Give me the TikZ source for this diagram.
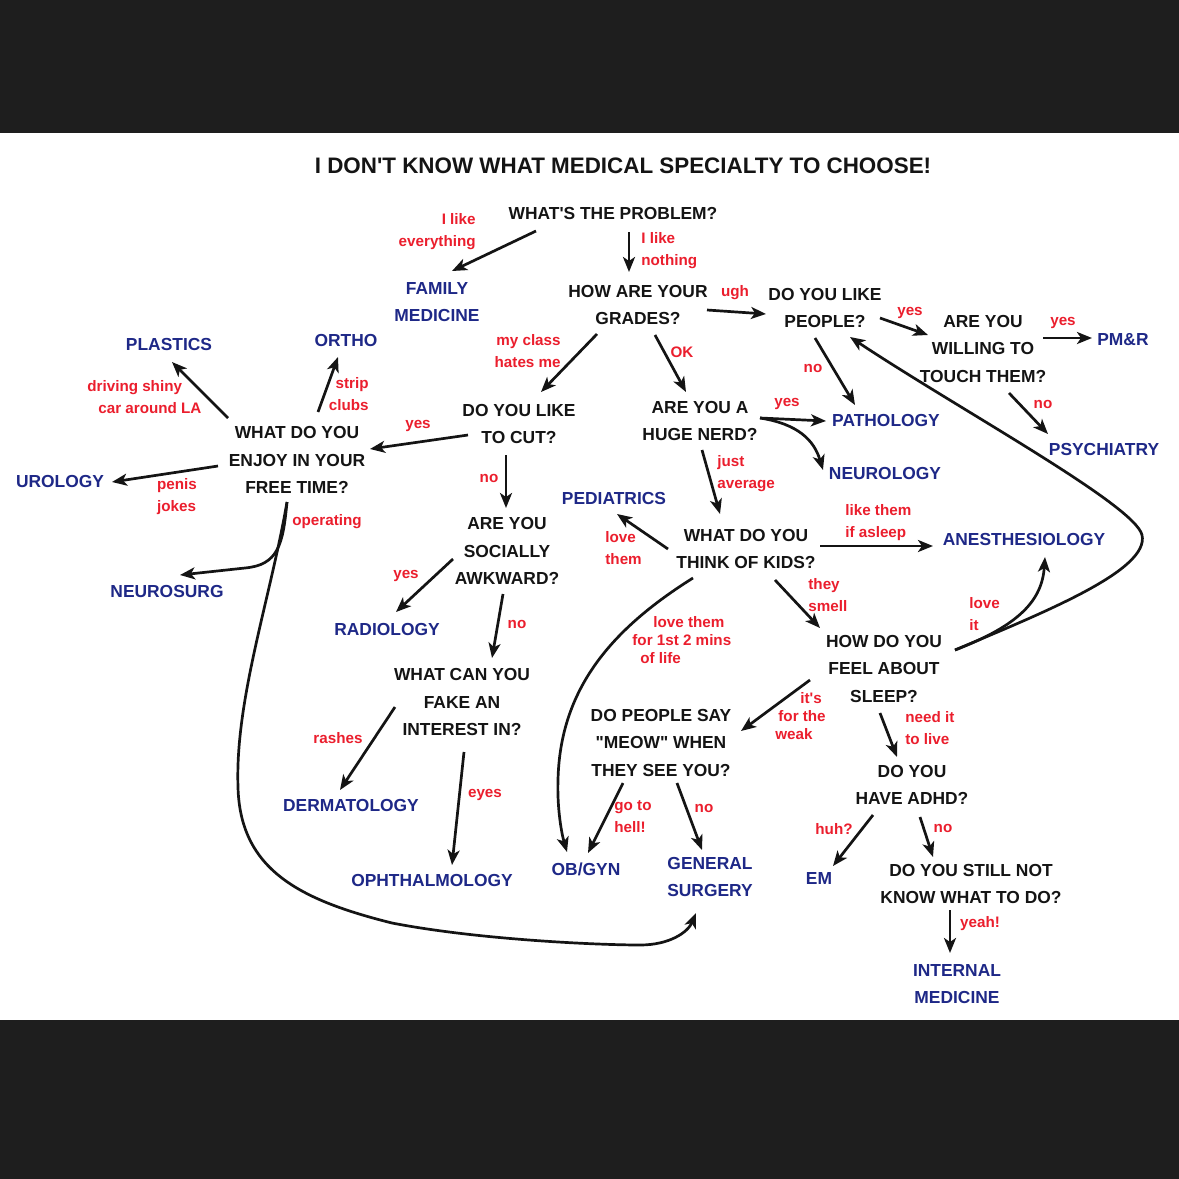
\documentclass[tikz,border=0pt]{standalone}
\usepackage{fontspec}
\setmainfont{Liberation Sans}
\newfontfamily\lsans{Liberation Sans}
\usetikzlibrary{arrows.meta}
\definecolor{bgdark}{RGB}{30,30,30}
\definecolor{qblack}{RGB}{20,20,20}
\definecolor{sblue}{RGB}{30,40,135}
\definecolor{lred}{RGB}{235,30,45}
\begin{document}
\begin{tikzpicture}[x=0.5pt,y=-0.5pt,
 q/.style={font=\lsans\bfseries\fontsize{8.7}{13.75}\selectfont, text=qblack, align=center, inner sep=0pt},
 sp/.style={font=\lsans\bfseries\fontsize{8.7}{13.75}\selectfont, text=sblue, align=center, inner sep=0pt},
 lb/.style={font=\lsans\bfseries\fontsize{7.6}{11}\selectfont, text=lred, inner sep=0pt},
 lbs/.style={font=\lsans\bfseries\fontsize{7.6}{9}\selectfont, text=lred, inner sep=0pt},
 arr/.style={-{Stealth[length=7.5pt,width=6pt,inset=2pt]}, line width=1.35pt, draw=qblack},
 ln/.style={line width=1.35pt, draw=qblack}
]
% background
\fill[bgdark] (0,0) rectangle (1179,1179);
\fill[white] (0,133) rectangle (1179,1020);
\useasboundingbox (0,0) rectangle (1179,1179);

% title
\node[q, font=\lsans\bfseries\fontsize{11.2}{13}\selectfont] (title) at (623,166) {I DON'T KNOW WHAT MEDICAL SPECIALTY TO CHOOSE!};

% questions
\node[q] (q1) at (613,214) {WHAT'S THE PROBLEM?};
\node[q] (q2) at (638,305) {HOW ARE YOUR\\GRADES?};
\node[q] (q3) at (825,308) {DO YOU LIKE\\PEOPLE?};
\node[q] (q4) at (983,349) {ARE YOU\\WILLING TO\\TOUCH THEM?};
\node[q] (q5) at (519,424) {DO YOU LIKE\\TO CUT?};
\node[q] (q6) at (700,421) {ARE YOU A\\HUGE NERD?};
\node[q] (q7) at (297,460) {WHAT DO YOU\\ENJOY IN YOUR\\FREE TIME?};
\node[q] (q8) at (507,551) {ARE YOU\\SOCIALLY\\AWKWARD?};
\node[q] (q9) at (462,702) {WHAT CAN YOU\\FAKE AN\\INTEREST IN?};
\node[q] (q10) at (746,549) {WHAT DO YOU\\THINK OF KIDS?};
\node[q] (q11) at (884,669) {HOW DO YOU\\FEEL ABOUT\\SLEEP?};
\node[q] (q12) at (661,743) {DO PEOPLE SAY\\"MEOW" WHEN\\THEY SEE YOU?};
\node[q] (q13) at (912,785) {DO YOU\\HAVE ADHD?};
\node[q] (q14) at (971,884) {DO YOU STILL NOT\\KNOW WHAT TO DO?};

% specialties
\node[sp] (fm) at (437,302) {FAMILY\\MEDICINE};
\node[sp] (pmr) at (1123,340) {PM\&R};
\node[sp] (psy) at (1104,450) {PSYCHIATRY};
\node[sp] (path) at (886,421) {PATHOLOGY};
\node[sp] (neuro) at (885,474) {NEUROLOGY};
\node[sp] (plast) at (169,345) {PLASTICS};
\node[sp] (ortho) at (346,341) {ORTHO};
\node[sp] (uro) at (60,482) {UROLOGY};
\node[sp] (nsurg) at (167,592) {NEUROSURG};
\node[sp] (rad) at (387,630) {RADIOLOGY};
\node[sp] (derm) at (351,805) {DERMATOLOGY};
\node[sp] (oph) at (432,880) {OPHTHALMOLOGY};
\node[sp] (ped) at (614,499) {PEDIATRICS};
\node[sp] (anes) at (1024,540) {ANESTHESIOLOGY};
\node[sp] (obgyn) at (586,869) {OB/GYN};
\node[sp] (gs) at (710,877) {GENERAL\\SURGERY};
\node[sp] (em) at (819,879) {EM};
\node[sp] (im) at (957,984) {INTERNAL\\MEDICINE};

% labels
\node[lb, align=right, anchor=east] (l1) at (476,232) {I like\\everything};
\node[lb, align=left, anchor=west] (l2) at (641,251) {I like\\nothing};
\node[lb] (l3) at (735,293) {ugh};
\node[lb] (l4) at (910,313) {yes};
\node[lb] (l5) at (1063,323) {yes};
\node[lb] (l6) at (1043,404) {no};
\node[lb] (l7) at (813,368) {no};
\node[lb, align=right, anchor=east] (l8) at (561,351) {my class\\hates me};
\node[lb] (l9) at (682,352) {OK};
\node[lb] (l10) at (787,404) {yes};
\node[lb] (l11) at (418,426) {yes};
\node[lb, align=left, anchor=west] (l12) at (87,397) {driving shiny\\\hspace*{5.5pt}car around LA};
\node[lb, align=right, anchor=east] (l13) at (369,394) {strip\\clubs};
\node[lb, align=left] (l14) at (177,497) {penis\\jokes};
\node[lb] (l15) at (327,522) {operating};
\node[lb] (l16) at (489,478) {no};
\node[lb] (l17) at (406,576) {yes};
\node[lb] (l18) at (517,624) {no};
\node[lb] (l19) at (338,738) {rashes};
\node[lb] (l20) at (485,795) {eyes};
\node[lb, align=left, anchor=west] (l21) at (717,474) {just\\average};
\node[lb, align=left, anchor=west] (l22) at (605,548) {love\\them};
\node[lb, align=left, anchor=west] (l23) at (845,523) {like them\\if asleep};
\node[lb, align=left, anchor=west] (l24) at (808,595) {they\\smell};
\node[lbs, align=left, anchor=west] (l25) at (632,640) {\hspace*{10.5pt}love them\\for 1st 2 mins\\\hspace*{4pt}of life};
\node[lb, align=left, anchor=west] (l26) at (969,614) {love\\it};
\node[lbs, align=left, anchor=west] (l27) at (775,716) {\hspace*{12.5pt}it's\\\hspace*{1.5pt}for the\\weak};
\node[lb, align=left, anchor=west] (l28) at (905,728) {need it\\to live};
\node[lb, align=left, anchor=west] (l29) at (614,817) {go to\\hell!};
\node[lb] (l30) at (704,808) {no};
\node[lb] (l31) at (834,829) {huh?};
\node[lb] (l32) at (943,828) {no};
\node[lb] (l33) at (980,924) {yeah!};

% connectors
\draw[arr] ([shift={(-77,17)}]q1.center) -- ([shift={(15,-31)}]fm.center);
\draw[arr] ([shift={(16,18)}]q1.center) -- ([shift={(-9,-33)}]q2.center);
\draw[arr] ([shift={(69,5)}]q2.center) -- ([shift={(-59,6)}]q3.center);
\draw[arr] ([shift={(55,10)}]q3.center) -- ([shift={(-55,-14)}]q4.center);
\draw[arr] ([shift={(60,-11)}]q4.center) -- ([shift={(-31,-2)}]pmr.center);
\draw[arr] ([shift={(26,44)}]q4.center) -- ([shift={(-56,-16)}]psy.center);
\draw[arr] ([shift={(-10,30)}]q3.center) -- ([shift={(-31,-16)}]path.center);
\draw[arr] ([shift={(-41,29)}]q2.center) -- ([shift={(22,-32)}]q5.center);
\draw[arr] ([shift={(17,30)}]q2.center) -- ([shift={(-14,-29)}]q6.center);
\draw[arr] ([shift={(60,-3)}]q6.center) -- ([shift={(-60,0)}]path.center);
\draw[arr] ([shift={(60,-3)}]q6.center) .. controls (798,424) and (814,440) .. ([shift={(-62,-4)}]neuro.center);
\draw[arr] ([shift={(-51,11)}]q5.center) -- ([shift={(73,-11)}]q7.center);
\draw[arr] ([shift={(-69,-42)}]q7.center) -- ([shift={(3,17)}]plast.center);
\draw[arr] ([shift={(21,-48)}]q7.center) -- ([shift={(-8,16)}]ortho.center);
\draw[arr] ([shift={(-79,6)}]q7.center) -- ([shift={(52,0)}]uro.center);
\draw[arr] ([shift={(-10,42)}]q7.center) .. controls (283,545) and (278,565) .. (245,568) -- ([shift={(13,-17)}]nsurg.center);
\draw[arr] ([shift={(-10,42)}]q7.center) .. controls (270,600) and (235,700) .. (238,787)
   .. controls (240,870) and (300,900) .. (392,923)
   .. controls (480,940) and (600,945) .. (640,945)
   .. controls (670,945) and (688,932) .. ([shift={(-14,36)}]gs.center);
\draw[arr] ([shift={(-13,31)}]q5.center) -- ([shift={(-1,-43)}]q8.center);
\draw[arr] ([shift={(-54,8)}]q8.center) -- ([shift={(9,-18)}]rad.center);
\draw[arr] ([shift={(-4,43)}]q8.center) -- ([shift={(30,-44)}]q9.center);
\draw[arr] ([shift={(-67,5)}]q9.center) -- ([shift={(-11,-15)}]derm.center);
\draw[arr] ([shift={(2,50)}]q9.center) -- ([shift={(20,-15)}]oph.center);
\draw[arr] ([shift={(2,29)}]q6.center) -- ([shift={(-26,-35)}]q10.center);
\draw[arr] ([shift={(-78,0)}]q10.center) -- ([shift={(3,15)}]ped.center);
\draw[arr] ([shift={(74,-3)}]q10.center) -- ([shift={(-91,6)}]anes.center);
\draw[arr] ([shift={(29,31)}]q10.center) -- ([shift={(-64,-41)}]q11.center);
\draw[arr] ([shift={(71,-19)}]q11.center) .. controls (1020,625) and (1042,600) .. ([shift={(21,17)}]anes.center);
\draw[arr] ([shift={(71,-19)}]q11.center) .. controls (1045,612) and (1150,570) .. (1142,535)
   .. controls (1135,505) and (960,410) .. ([shift={(25,29)}]q3.center);
\draw[arr] ([shift={(-53,29)}]q10.center) .. controls (610,630) and (560,690) .. (558,780)
   .. controls (557,810) and (562,835) .. ([shift={(-19,-17)}]obgyn.center);
\draw[arr] ([shift={(-74,11)}]q11.center) -- ([shift={(80,-12)}]q12.center);
\draw[arr] ([shift={(-4,44)}]q11.center) -- ([shift={(-15,-28)}]q13.center);
\draw[arr] ([shift={(-38,40)}]q12.center) -- ([shift={(2,-16)}]obgyn.center);
\draw[arr] ([shift={(16,40)}]q12.center) -- ([shift={(-8,-27)}]gs.center);
\draw[arr] ([shift={(-39,30)}]q13.center) -- ([shift={(14,-13)}]em.center);
\draw[arr] ([shift={(8,32)}]q13.center) -- ([shift={(-38,-27)}]q14.center);
\draw[arr] ([shift={(-21,26)}]q14.center) -- ([shift={(-7,-31)}]im.center);
\end{tikzpicture}
\end{document}
